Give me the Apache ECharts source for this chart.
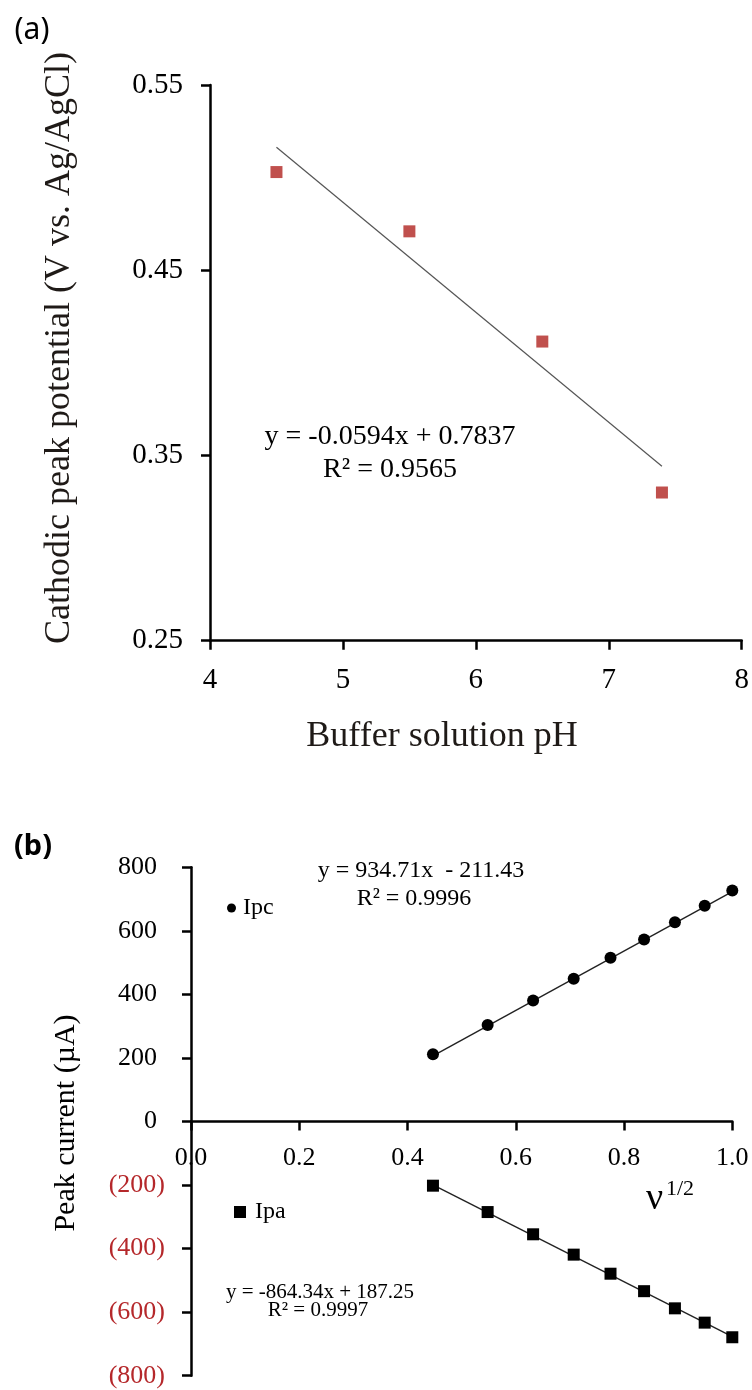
<!DOCTYPE html>
<html>
<head>
<meta charset="utf-8">
<script src="https://cdn.jsdelivr.net/npm/echarts@6/dist/echarts.min.js"></script>
<style>
  html, body { margin: 0; padding: 0; background: #fff; }
  #chart { width: 752px; height: 1390px; }
</style>
</head>
<body>
<div id="chart"></div>
<script>
// Panel (a): cathodic peak potential versus buffer pH
const bufferPH = [4.5, 5.5, 6.5, 7.4];
const cathodicPeak = [0.503, 0.471, 0.4115, 0.330];
const fitPH = { slope: -0.0594, intercept: 0.7837, r2: 0.9565 };
const phTicks = [4, 5, 6, 7, 8];
const potentialTicks = [0.25, 0.35, 0.45, 0.55];

// Panel (b): peak currents versus square root of scan rate
const sqrtScanRate = [0.447, 0.548, 0.632, 0.707, 0.775, 0.837, 0.894, 0.949, 1.0];
const ipcCurrent = [212, 304, 381, 449, 515, 573, 627, 679, 727];
const ipaCurrent = [-202, -285, -355, -419, -479, -534, -588, -633, -679];
const fitIpc = { slope: 934.71, intercept: -211.43, r2: 0.9996 };
const fitIpa = { slope: -864.34, intercept: 187.25, r2: 0.9997 };
const rateTicks = [0, 0.2, 0.4, 0.6, 0.8, 1.0];
const currentTicks = [-800, -600, -400, -200, 0, 200, 400, 600, 800];

const SERIF = '"Liberation Serif", "Times New Roman", serif';
const SANS = '"Noto Sans", "Open Sans", sans-serif';

const zip = (xs, ys) => xs.map((x, i) => [x, ys[i]]);
const fitLine = (fit, xs) => {
  const a = Math.min(...xs), b = Math.max(...xs);
  return [[a, fit.slope * a + fit.intercept], [b, fit.slope * b + fit.intercept]];
};
const step = arr => arr[1] - arr[0];

const axisLine = { lineStyle: { color: '#000', width: 2.5 } };
const axisTick = { length: 9, lineStyle: { color: '#000', width: 2.5 } };

// grid (b) geometry; the horizontal axis is lifted to the zero current line
const gridB = { left: 191, top: 867.3, width: 541.3, height: 508.4 };
const cMin = currentTicks[0], cMax = currentTicks[currentTicks.length - 1];
const zeroLift = gridB.height * (0 - cMin) / (cMax - cMin);

function text(x, y, str, size, opts) {
  opts = opts || {};
  return {
    type: 'text', x: x, y: y, rotation: opts.rotation || 0, silent: true,
    style: {
      text: str, fill: opts.fill || '#000',
      font: (opts.weight || 'normal') + ' ' + size + 'px ' + (opts.family || SERIF),
      textAlign: opts.align || 'center', textVerticalAlign: 'middle'
    }
  };
}

const chart = echarts.init(document.getElementById('chart'), null, { renderer: 'canvas' });

chart.setOption({
  animation: false,
  backgroundColor: '#fff',
  grid: [
    { left: 210, top: 85, width: 531.7, height: 555.7 },
    gridB
  ],
  xAxis: [
    {
      type: 'value', gridIndex: 0,
      min: phTicks[0], max: phTicks[phTicks.length - 1], interval: step(phTicks),
      axisLine: axisLine, axisTick: axisTick, splitLine: { show: false },
      axisLabel: { fontSize: 29, fontFamily: SERIF, color: '#000', margin: 25 }
    },
    {
      type: 'value', gridIndex: 1, position: 'bottom', offset: -zeroLift,
      min: rateTicks[0], max: rateTicks[rateTicks.length - 1], interval: step(rateTicks),
      axisLine: Object.assign({ onZero: false }, axisLine), axisTick: axisTick,
      splitLine: { show: false },
      axisLabel: {
        fontSize: 26, fontFamily: SERIF, color: '#000', margin: 24,
        formatter: v => v.toFixed(1)
      }
    }
  ],
  yAxis: [
    {
      type: 'value', gridIndex: 0,
      min: potentialTicks[0], max: potentialTicks[potentialTicks.length - 1],
      interval: step(potentialTicks),
      axisLine: axisLine, axisTick: axisTick, splitLine: { show: false },
      axisLabel: {
        fontSize: 29, fontFamily: SERIF, color: '#000', margin: 27,
        formatter: v => v.toFixed(2)
      }
    },
    {
      type: 'value', gridIndex: 1,
      min: cMin, max: cMax, interval: step(currentTicks),
      axisLine: axisLine, axisTick: axisTick, splitLine: { show: false },
      axisLabel: {
        margin: 26,
        formatter: v => v < 0 ? '{neg|(' + (-v) + ')}' : '{pos|' + v + '}',
        rich: {
          neg: { fontSize: 26, fontFamily: SERIF, color: '#B5282B' },
          pos: { fontSize: 26, fontFamily: SERIF, color: '#000', padding: [0, 8, 0, 0] }
        }
      }
    }
  ],
  legend: [
    {
      data: [{ name: 'Ipc', icon: 'circle' }], selectedMode: false,
      left: 227, top: 896, padding: 0, itemWidth: 9, itemHeight: 9,
      textStyle: { fontSize: 24, fontFamily: SERIF, color: '#000', padding: [0, 0, 0, 2] }
    },
    {
      data: [{ name: 'Ipa', icon: 'rect' }], selectedMode: false,
      left: 234, top: 1200, padding: 0, itemWidth: 12, itemHeight: 12,
      textStyle: { fontSize: 24, fontFamily: SERIF, color: '#000', padding: [0, 0, 0, 4] }
    }
  ],
  series: [
    {
      name: 'pH trend', type: 'line', xAxisIndex: 0, yAxisIndex: 0,
      data: fitLine(fitPH, bufferPH), symbol: 'none', z: 3,
      lineStyle: { color: '#555', width: 1.2 }
    },
    {
      name: 'Epc', type: 'scatter', xAxisIndex: 0, yAxisIndex: 0,
      data: zip(bufferPH, cathodicPeak), symbol: 'rect', symbolSize: 12, z: 4,
      itemStyle: { color: '#C0504D', opacity: 1 }
    },
    {
      name: 'Ipc trend', type: 'line', xAxisIndex: 1, yAxisIndex: 1,
      data: fitLine(fitIpc, sqrtScanRate), symbol: 'none', z: 3,
      lineStyle: { color: '#222', width: 1.4 }
    },
    {
      name: 'Ipc', type: 'scatter', xAxisIndex: 1, yAxisIndex: 1,
      data: zip(sqrtScanRate, ipcCurrent), symbol: 'circle', symbolSize: 12, z: 4,
      itemStyle: { color: '#000', opacity: 1 }
    },
    {
      name: 'Ipa trend', type: 'line', xAxisIndex: 1, yAxisIndex: 1,
      data: fitLine(fitIpa, sqrtScanRate), symbol: 'none', z: 3,
      lineStyle: { color: '#222', width: 1.4 }
    },
    {
      name: 'Ipa', type: 'scatter', xAxisIndex: 1, yAxisIndex: 1,
      data: zip(sqrtScanRate, ipaCurrent), symbol: 'rect', symbolSize: 12, z: 4,
      itemStyle: { color: '#000', opacity: 1 }
    }
  ],
  graphic: [
    text(32, 30, '(a)', 30, { family: SANS }),
    text(33, 847, '(b)', 29, { family: SANS, weight: 'bold' }),
    text(60, 348, 'Cathodic peak potential (V vs. Ag/AgCl)', 36, { rotation: Math.PI / 2, fill: '#1f1a17' }),
    text(442, 737, 'Buffer solution pH', 36, { fill: '#1f1a17' }),
    text(390, 437, 'y = ' + fitPH.slope + 'x + ' + fitPH.intercept, 28),
    text(390, 470, 'R\u00B2 = ' + fitPH.r2, 28),
    text(66, 1123, 'Peak current (\u00B5A)', 30, { rotation: Math.PI / 2 }),
    text(421, 871, 'y = ' + fitIpc.slope + 'x  - ' + (-fitIpc.intercept), 24),
    text(414, 899, 'R\u00B2 = ' + fitIpc.r2, 24),
    text(320, 1292, 'y = ' + fitIpa.slope + 'x + ' + fitIpa.intercept, 21),
    text(318, 1310, 'R\u00B2 = ' + fitIpa.r2, 21),
    text(646, 1199, '\u03BD', 38, { align: 'left' }),
    text(666, 1189, '1/2', 22, { align: 'left' })
  ]
});
</script>
</body>
</html>
